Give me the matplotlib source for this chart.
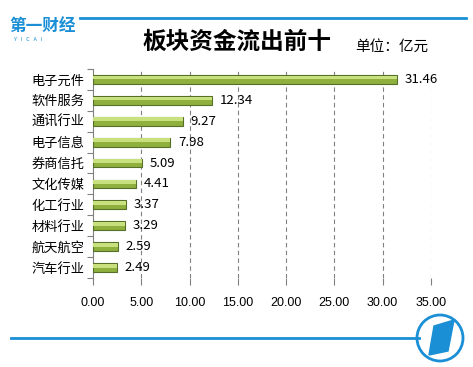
import matplotlib.pyplot as plt
import matplotlib.patches as mpatches
import numpy as np

plt.rcParams['font.family'] = ['Noto Sans CJK SC', 'DejaVu Sans']

sectors = ["电子元件", "软件服务", "通讯行业", "电子信息", "券商信托",
           "文化传媒", "化工行业", "材料行业", "航天航空", "汽车行业"]
values = [31.46, 12.34, 9.27, 7.98, 5.09, 4.41, 3.37, 3.29, 2.59, 2.49]
xticks = [0, 5, 10, 15, 20, 25, 30, 35]

blue = "#1a8fd6"

fig = plt.figure(figsize=(4.73, 3.67), dpi=100)
ax = fig.add_axes([0.197, 0.2425, 0.714, 0.5695])

y = np.arange(len(sectors))
ax.barh(y, values, height=0.42, color="#8fb03c", edgecolor="#56702a", linewidth=0.8, zorder=3)
# lighter upper half to give the bars a rounded look
ax.barh(y - 0.09, values, height=0.18, color="#c8e07e", linewidth=0, zorder=4)

for yi, v in zip(y, values):
    ax.text(v + 0.8, yi, f"{v:.2f}", va="center", ha="left", fontsize=9.5, color="black", zorder=5)

ax.set_xlim(0, 35)
ax.set_ylim(len(sectors) - 0.5, -0.5)
ax.set_xticks(xticks)
ax.set_xticklabels([f"{t:.2f}" for t in xticks], fontsize=9, family=["Liberation Sans", "DejaVu Sans"])
ax.set_yticks(y)
ax.set_yticklabels(sectors, fontsize=9.5)
ax.set_yticks(np.arange(len(sectors) + 1) - 0.5, minor=True)

ax.tick_params(axis="y", which="major", length=0, pad=6)
ax.tick_params(axis="y", which="minor", length=4, color="#808080", width=0.8)
ax.tick_params(axis="x", length=5, color="#808080", width=0.8, pad=9)

for s in ["top", "right", "bottom"]:
    ax.spines[s].set_visible(False)
ax.spines["left"].set_color("#808080")
ax.spines["left"].set_linewidth(0.8)

for t in xticks[1:]:
    ax.axvline(t, color="#808080", linestyle=(0, (4, 3)), linewidth=0.8, zorder=1)

# header
fig.add_artist(plt.Line2D([0.17, 0.985], [0.951, 0.951], color=blue, linewidth=2))
fig.text(0.02, 0.93, "第一财经", color=blue, fontsize=12, fontweight="bold", ha="left", va="center")
fig.text(0.03, 0.893, "Y   I   C   A   I", color=blue, fontsize=4, ha="left", va="center")
fig.text(0.50, 0.885, "板块资金流出前十", fontsize=17, fontweight="bold", ha="center", va="center")
fig.text(0.75, 0.872, "单位：亿元", fontsize=10.5, ha="left", va="center")

# footer
fig.add_artist(plt.Line2D([0.023, 0.885], [0.079, 0.079], color=blue, linewidth=2))
cx, cy = 440 / 473, 1 - 338 / 367
circ = mpatches.Ellipse((cx, cy), 46 / 473, 46 / 367, transform=fig.transFigure,
                        fill=False, edgecolor=blue, linewidth=2)
fig.add_artist(circ)
para = mpatches.Polygon([(cx - 11 / 473, cy - 17 / 367), (cx - 6 / 473, cy + 12 / 367),
                         (cx + 14 / 473, cy + 18 / 367), (cx + 8 / 473, cy - 13 / 367)],
                        closed=True, transform=fig.transFigure, color=blue)
fig.add_artist(para)

fig.savefig("out.png", dpi=100)
